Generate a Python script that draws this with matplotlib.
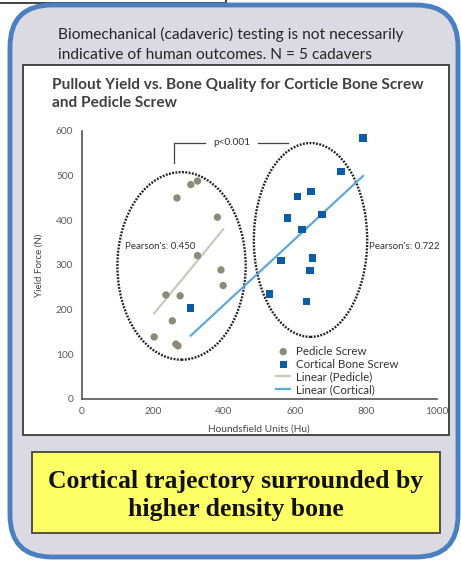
#------------Imports----------------------------------#
import numpy as np
import matplotlib
matplotlib.use("Agg")
import matplotlib.pyplot as plt
from matplotlib.patches import FancyBboxPatch, Rectangle, Ellipse
from matplotlib.transforms import IdentityTransform
#-----------------------------------------------------#

W, H = 461, 562

#----Data-------------------------------------------------------------------#
pedicle_hu = [326, 307, 268, 382, 326, 392, 398, 237, 277, 255, 204, 265, 271]
pedicle_force = [488, 480, 450, 407, 321, 289, 254, 233, 231, 175, 139, 123, 119]
cortical_hu = [307, 792, 730, 608, 645, 676, 579, 620, 561, 650, 643, 528, 633]
cortical_force = [204, 584, 509, 454, 464, 413, 405, 380, 310, 316, 288, 235, 218]
x_ticks = [0, 200, 400, 600, 800, 1000]
y_ticks = [0, 100, 200, 300, 400, 500, 600]
pearson_pedicle = "Pearson's: 0.450"
pearson_cortical = "Pearson's: 0.722"
#---------------------------------------------------------------------------#

fig = plt.figure(figsize=(W / 100, H / 100), dpi=100)
fig.patch.set_facecolor("white")


def box(x0, y0, x1, y1):
    """image pixel box (y down) -> display coords (y up)"""
    return x0, H - y1, x1 - x0, y1 - y0


#----background shapes------------------------------------------------------#
x, y, w, h = box(-5, -10, 226, 3)
fig.add_artist(Rectangle((x, y), w, h, transform=IdentityTransform(),
                         facecolor="white", edgecolor="#222222", lw=1.2, zorder=0))
x, y, w, h = box(10, 5, 458, 557)
fig.add_artist(FancyBboxPatch((x, y), w, h, boxstyle="round,pad=0,rounding_size=42",
                              transform=IdentityTransform(), facecolor="#dbd9e2",
                              edgecolor="#4a7fc1", lw=3.5, zorder=0))
x, y, w, h = box(23, 65, 449, 435)
fig.add_artist(Rectangle((x, y), w, h, transform=IdentityTransform(),
                         facecolor="white", edgecolor="#3a3a3a", lw=1.3, zorder=0))
x, y, w, h = box(32, 452, 440, 533)
fig.add_artist(Rectangle((x, y), w, h, transform=IdentityTransform(),
                         facecolor="#ffff66", edgecolor="#444444", lw=1.3, zorder=0))

fig.text(58 / W, 1 - 44.5 / H,
         "Biomechanical (cadaveric) testing is not necessarily\nindicative of human outcomes. N = 5 cadavers",
         fontsize=11.2, family="Lato", color="#262626", va="center", ha="left", linespacing=1.55)
fig.text(52 / W, 1 - 94 / H,
         "Pullout Yield vs. Bone Quality for Corticle Bone Screw\nand Pedicle Screw",
         fontsize=11.1, family="Lato", weight="bold", color="#404040", va="center", ha="left",
         linespacing=1.45)
fig.text(236 / W, 1 - 495.5 / H, "Cortical trajectory surrounded by\nhigher density bone",
         fontsize=18.5, family="Liberation Serif", weight="bold", color="#111111",
         ha="center", va="center", linespacing=1.32)

#----the chart---------------------------------------------------------------#
ax = fig.add_axes([81.7 / W, 1 - 399 / H, (437 - 81.7) / W, (399 - 131) / H])
ax.set_facecolor("none")
ax.set_xlim(0, 1000)
ax.set_ylim(0, 600)

ax.scatter(pedicle_hu, pedicle_force, marker="o", s=28, color="#8b8b77",
           edgecolors="none", zorder=3, label="Pedicle Screw")
ax.scatter(cortical_hu, cortical_force, marker="s", s=28, color="#0b5ca6",
           edgecolors="none", zorder=3, label="Cortical Bone Screw")

# linear trend lines fitted to the points
for xs, ys, col, lab in [(pedicle_hu, pedicle_force, "#c9c9bd", "Linear (Pedicle)"),
                         (cortical_hu, cortical_force, "#5fa9d9", "Linear (Cortical)")]:
    k, b = np.polyfit(xs, ys, 1)
    xx = np.array([min(xs), max(xs)])
    ax.plot(xx, k * xx + b, color=col, lw=1.6, zorder=2, label=lab)

# dotted group ellipses
ax.add_patch(Ellipse((281, 298), 361, 420, fill=False, ls=(0, (0.8, 0.6)),
                     lw=1.7, edgecolor="#222222", zorder=1))
ax.add_patch(Ellipse((644, 356), 319, 434, fill=False, ls=(0, (0.8, 0.6)),
                     lw=1.7, edgecolor="#222222", zorder=1))

# p-value bracket
ax.plot([260, 260, 348], [529, 574, 574], color="#444444", lw=0.9)
ax.plot([496, 580], [574, 574], color="#444444", lw=0.9)
ax.text(422, 574, "p<0.001", fontsize=7.3, family="Lato", color="#333333",
        ha="center", va="center")

ax.text(121, 342, pearson_pedicle, fontsize=7, family="Lato", color="#333333",
        ha="left", va="center")
ax.text(810, 341, pearson_cortical, fontsize=7, family="Lato", color="#333333",
        ha="left", va="center")

ax.set_xticks(x_ticks)
ax.set_yticks(y_ticks)
ax.tick_params(length=0, labelsize=7.3, labelcolor="#595959", pad=6)
for lbl in ax.get_xticklabels() + ax.get_yticklabels():
    lbl.set_family("Lato")
for s in ["top", "right"]:
    ax.spines[s].set_visible(False)
for s in ["left", "bottom"]:
    ax.spines[s].set_color("#555555")
    ax.spines[s].set_linewidth(1.2)

ax.set_xlabel("Houndsfield Units (Hu)", fontsize=7.3, family="Lato", color="#444444", labelpad=6)
ax.set_ylabel("Yield Force (N)", fontsize=7, family="Lato", color="#444444", labelpad=9)

ax.legend(loc="lower left", bbox_to_anchor=(0.525, -0.016), frameon=False,
          prop={"family": "Lato", "size": 8.3}, labelcolor="#333333",
          handlelength=1.2, handletextpad=0.5, labelspacing=0.16, markerscale=1.0,
          borderaxespad=0.3)

fig.savefig("out.png", dpi=100)
